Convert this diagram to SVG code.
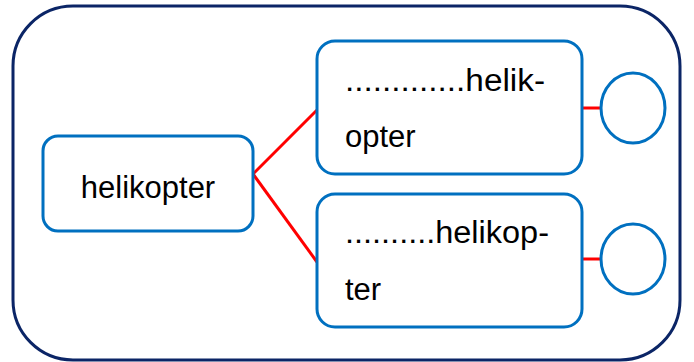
<svg xmlns="http://www.w3.org/2000/svg" width="694" height="362" viewBox="0 0 694 362">
<style>
.frame{fill:#fff;stroke:#0b2566;stroke-width:3}
.box{fill:#fff;stroke:#0070c0;stroke-width:3}
.conn{stroke:#ff0000;stroke-width:3;fill:none}
.t{font-family:"Liberation Sans",Arial,sans-serif;font-size:31px;fill:#000}
</style>
<rect width="694" height="362" fill="#fff"/>
<rect class="frame" x="13" y="6" width="667" height="354" rx="60" ry="60"/>
<g id="connectors">
<line class="conn" x1="253" y1="174" x2="317" y2="110"/>
<line class="conn" x1="253" y1="174" x2="317" y2="262"/>
<line class="conn" x1="582" y1="108" x2="601" y2="108"/>
<line class="conn" x1="582" y1="259" x2="601" y2="259"/>
</g>
<g id="node-main">
<rect class="box" x="43" y="136" width="210" height="95" rx="15"/>
<text class="t" x="148" y="198" text-anchor="middle">helikopter</text>
</g>
<g id="node-top">
<rect class="box" x="317" y="41" width="265" height="133" rx="18"/>
<text class="t" x="345" y="91" textLength="200" lengthAdjust="spacingAndGlyphs">.............helik-</text>
<text class="t" x="345" y="147">opter</text>
</g>
<g id="node-bottom">
<rect class="box" x="317" y="194" width="265" height="133" rx="18"/>
<text class="t" x="345" y="243" textLength="204" lengthAdjust="spacingAndGlyphs">..........helikop-</text>
<text class="t" x="345" y="300">ter</text>
</g>
<g id="circle-top">
<ellipse class="box" cx="633" cy="108" rx="32" ry="35"/>
</g>
<g id="circle-bottom">
<ellipse class="box" cx="633" cy="259" rx="32" ry="35"/>
</g>
</svg>
